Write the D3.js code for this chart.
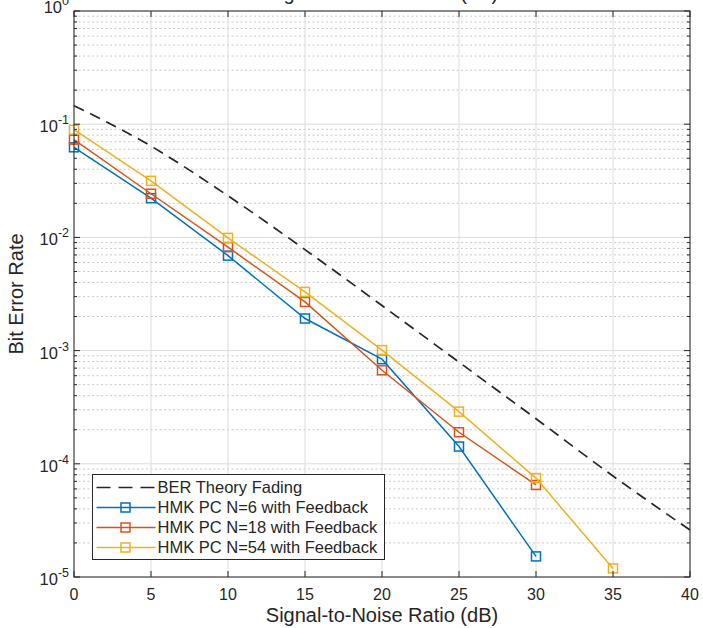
<!DOCTYPE html>
<html>
<head>
<meta charset="utf-8">
<script src="https://cdn.jsdelivr.net/npm/d3@7"></script>
<style>
  body { margin: 0; background: #fff; }
  text { font-family: "Liberation Sans", Arial, sans-serif; fill: #262626; }
</style>
</head>
<body>
<div id="chart"></div>
<script>
// data
const snrTheory = [0, 5, 10, 15, 20, 25, 30, 35, 40];
const berTheory = [0.146, 0.064, 0.0233, 0.0078, 0.0025, 7.9e-4, 2.5e-4, 7.8e-5, 2.6e-5];

const snrN6 = [0, 5, 10, 15, 20, 25, 30];
const berN6 = [0.0625, 0.0222, 0.0069, 0.00192, 8.4e-4, 1.42e-4, 1.52e-5];

const snrN18 = [0, 5, 10, 15, 20, 25, 30];
const berN18 = [0.073, 0.0243, 0.0082, 0.00269, 6.7e-4, 1.9e-4, 6.5e-5];

const snrN54 = [0, 5, 10, 15, 20, 25, 30, 35];
const berN54 = [0.0895, 0.0316, 0.0099, 0.0033, 0.00101, 2.89e-4, 7.48e-5, 1.19e-5];

const xTicks = [0, 5, 10, 15, 20, 25, 30, 35, 40];
const yDecades = [1e0, 1e-1, 1e-2, 1e-3, 1e-4, 1e-5];

const seriesNames = ["BER Theory Fading", "HMK PC N=6 with Feedback",
  "HMK PC N=18 with Feedback", "HMK PC N=54 with Feedback"];
const colors = ["#262626", "#0072BD", "#D95319", "#EDB120"];

const W = 703, H = 628;
const margin = { left: 74, top: 11, right: 13, bottom: 51 };
const iw = W - margin.left - margin.right;
const ih = H - margin.top - margin.bottom;

const svg = d3.select("#chart").append("svg")
  .attr("width", W).attr("height", H);

const g = svg.append("g")
  .attr("transform", `translate(${margin.left},${margin.top})`);

const x = d3.scaleLinear().domain([0, 40]).range([0, iw]);
const y = d3.scaleLog().domain([1e-5, 1]).range([ih, 0]);

// minor values on the log axis
const yMinor = [];
yDecades.slice(1).forEach(d => {
  for (let k = 2; k <= 9; k++) yMinor.push(d * k);
});

// grid
g.selectAll(".minor").data(yMinor).join("line")
  .attr("x1", 0).attr("x2", iw)
  .attr("y1", d => y(d)).attr("y2", d => y(d))
  .attr("stroke", "#c8c8c8").attr("stroke-width", 1)
  .attr("stroke-dasharray", "2,2.5");

g.selectAll(".ygrid").data(yDecades).join("line")
  .attr("x1", 0).attr("x2", iw)
  .attr("y1", d => y(d)).attr("y2", d => y(d))
  .attr("stroke", "#dcdcdc").attr("stroke-width", 1);

g.selectAll(".xgrid").data(xTicks).join("line")
  .attr("x1", d => x(d)).attr("x2", d => x(d))
  .attr("y1", 0).attr("y2", ih)
  .attr("stroke", "#dcdcdc").attr("stroke-width", 1);

// lines
const line = d3.line().x(d => x(d[0])).y(d => y(d[1]));

const theory = snrTheory.map((s, i) => [s, berTheory[i]]);
g.append("path")
  .datum(theory)
  .attr("d", line.curve(d3.curveMonotoneX))
  .attr("fill", "none")
  .attr("stroke", colors[0])
  .attr("stroke-width", 1.7)
  .attr("stroke-dasharray", "11,7");

const series = [
  snrN6.map((s, i) => [s, berN6[i]]),
  snrN18.map((s, i) => [s, berN18[i]]),
  snrN54.map((s, i) => [s, berN54[i]])
];

const lin = d3.line().x(d => x(d[0])).y(d => y(d[1]));
series.forEach((pts, i) => {
  g.append("path")
    .datum(pts)
    .attr("d", lin)
    .attr("fill", "none")
    .attr("stroke", colors[i + 1])
    .attr("stroke-width", 1.5);
  g.selectAll(".mk" + i).data(pts).join("rect")
    .attr("x", d => x(d[0]) - 4.5)
    .attr("y", d => y(d[1]) - 4.5)
    .attr("width", 9).attr("height", 9)
    .attr("fill", "none")
    .attr("stroke", colors[i + 1])
    .attr("stroke-width", 1.5);
});

// axes box and ticks
const axisColor = "#262626";
g.append("rect")
  .attr("width", iw).attr("height", ih)
  .attr("fill", "none").attr("stroke", axisColor).attr("stroke-width", 1);

const tl = 6;
g.selectAll(".xtb").data(xTicks).join("line")
  .attr("x1", d => x(d)).attr("x2", d => x(d))
  .attr("y1", ih).attr("y2", ih - tl).attr("stroke", axisColor);
g.selectAll(".xtt").data(xTicks).join("line")
  .attr("x1", d => x(d)).attr("x2", d => x(d))
  .attr("y1", 0).attr("y2", tl).attr("stroke", axisColor);

g.selectAll(".ytl").data(yDecades).join("line")
  .attr("x1", 0).attr("x2", tl)
  .attr("y1", d => y(d)).attr("y2", d => y(d)).attr("stroke", axisColor);
g.selectAll(".ytr").data(yDecades).join("line")
  .attr("x1", iw).attr("x2", iw - tl)
  .attr("y1", d => y(d)).attr("y2", d => y(d)).attr("stroke", axisColor);
g.selectAll(".ymtl").data(yMinor).join("line")
  .attr("x1", 0).attr("x2", 3)
  .attr("y1", d => y(d)).attr("y2", d => y(d)).attr("stroke", axisColor);
g.selectAll(".ymtr").data(yMinor).join("line")
  .attr("x1", iw).attr("x2", iw - 3)
  .attr("y1", d => y(d)).attr("y2", d => y(d)).attr("stroke", axisColor);

// tick labels
g.selectAll(".xlab").data(xTicks).join("text")
  .attr("x", d => x(d)).attr("y", ih + 23)
  .attr("text-anchor", "middle")
  .attr("font-size", "16px")
  .text(d => d);

const ylab = g.selectAll(".ylab").data(yDecades).join("text")
  .attr("x", -5)
  .attr("y", d => y(d) + (d === 1 ? 2 : 8))
  .attr("text-anchor", "end")
  .attr("font-size", "16.5px");
ylab.append("tspan").text("10");
ylab.append("tspan")
  .attr("dy", -8).attr("font-size", "12.5px")
  .text(d => Math.round(Math.log10(d)));

// axis titles
svg.append("text")
  .attr("x", margin.left + iw / 2).attr("y", 622)
  .attr("text-anchor", "middle")
  .attr("font-size", "20px")
  .text("Signal-to-Noise Ratio (dB)");

svg.append("text")
  .attr("transform", `translate(23,${margin.top + ih / 2}) rotate(-90)`)
  .attr("text-anchor", "middle")
  .attr("font-size", "20px")
  .text("Bit Error Rate");

// title, mostly above the visible area
svg.append("text")
  .attr("x", margin.left + iw / 2).attr("y", 0)
  .attr("text-anchor", "middle")
  .attr("font-size", "20px")
  .text("Signal-to-Noise Ratio (dB)");

// legend
const lg = svg.append("g").attr("transform", "translate(92.5,474.5)");
lg.append("rect")
  .attr("width", 292).attr("height", 85)
  .attr("fill", "#fff").attr("stroke", axisColor).attr("stroke-width", 1);

seriesNames.forEach((name, i) => {
  const ry = 13 + i * 20;
  lg.append("line")
    .attr("x1", 4).attr("x2", 63)
    .attr("y1", ry).attr("y2", ry)
    .attr("stroke", colors[i])
    .attr("stroke-width", i === 0 ? 1.7 : 1.5)
    .attr("stroke-dasharray", i === 0 ? "14,8" : null);
  if (i > 0) {
    lg.append("rect")
      .attr("x", 33 - 4.5).attr("y", ry - 4.5)
      .attr("width", 9).attr("height", 9)
      .attr("fill", "none").attr("stroke", colors[i]).attr("stroke-width", 1.5);
  }
  lg.append("text")
    .attr("x", 65).attr("y", ry + 5.5)
    .attr("font-size", "16.5px")
    .text(name);
});
</script>
</body>
</html>
